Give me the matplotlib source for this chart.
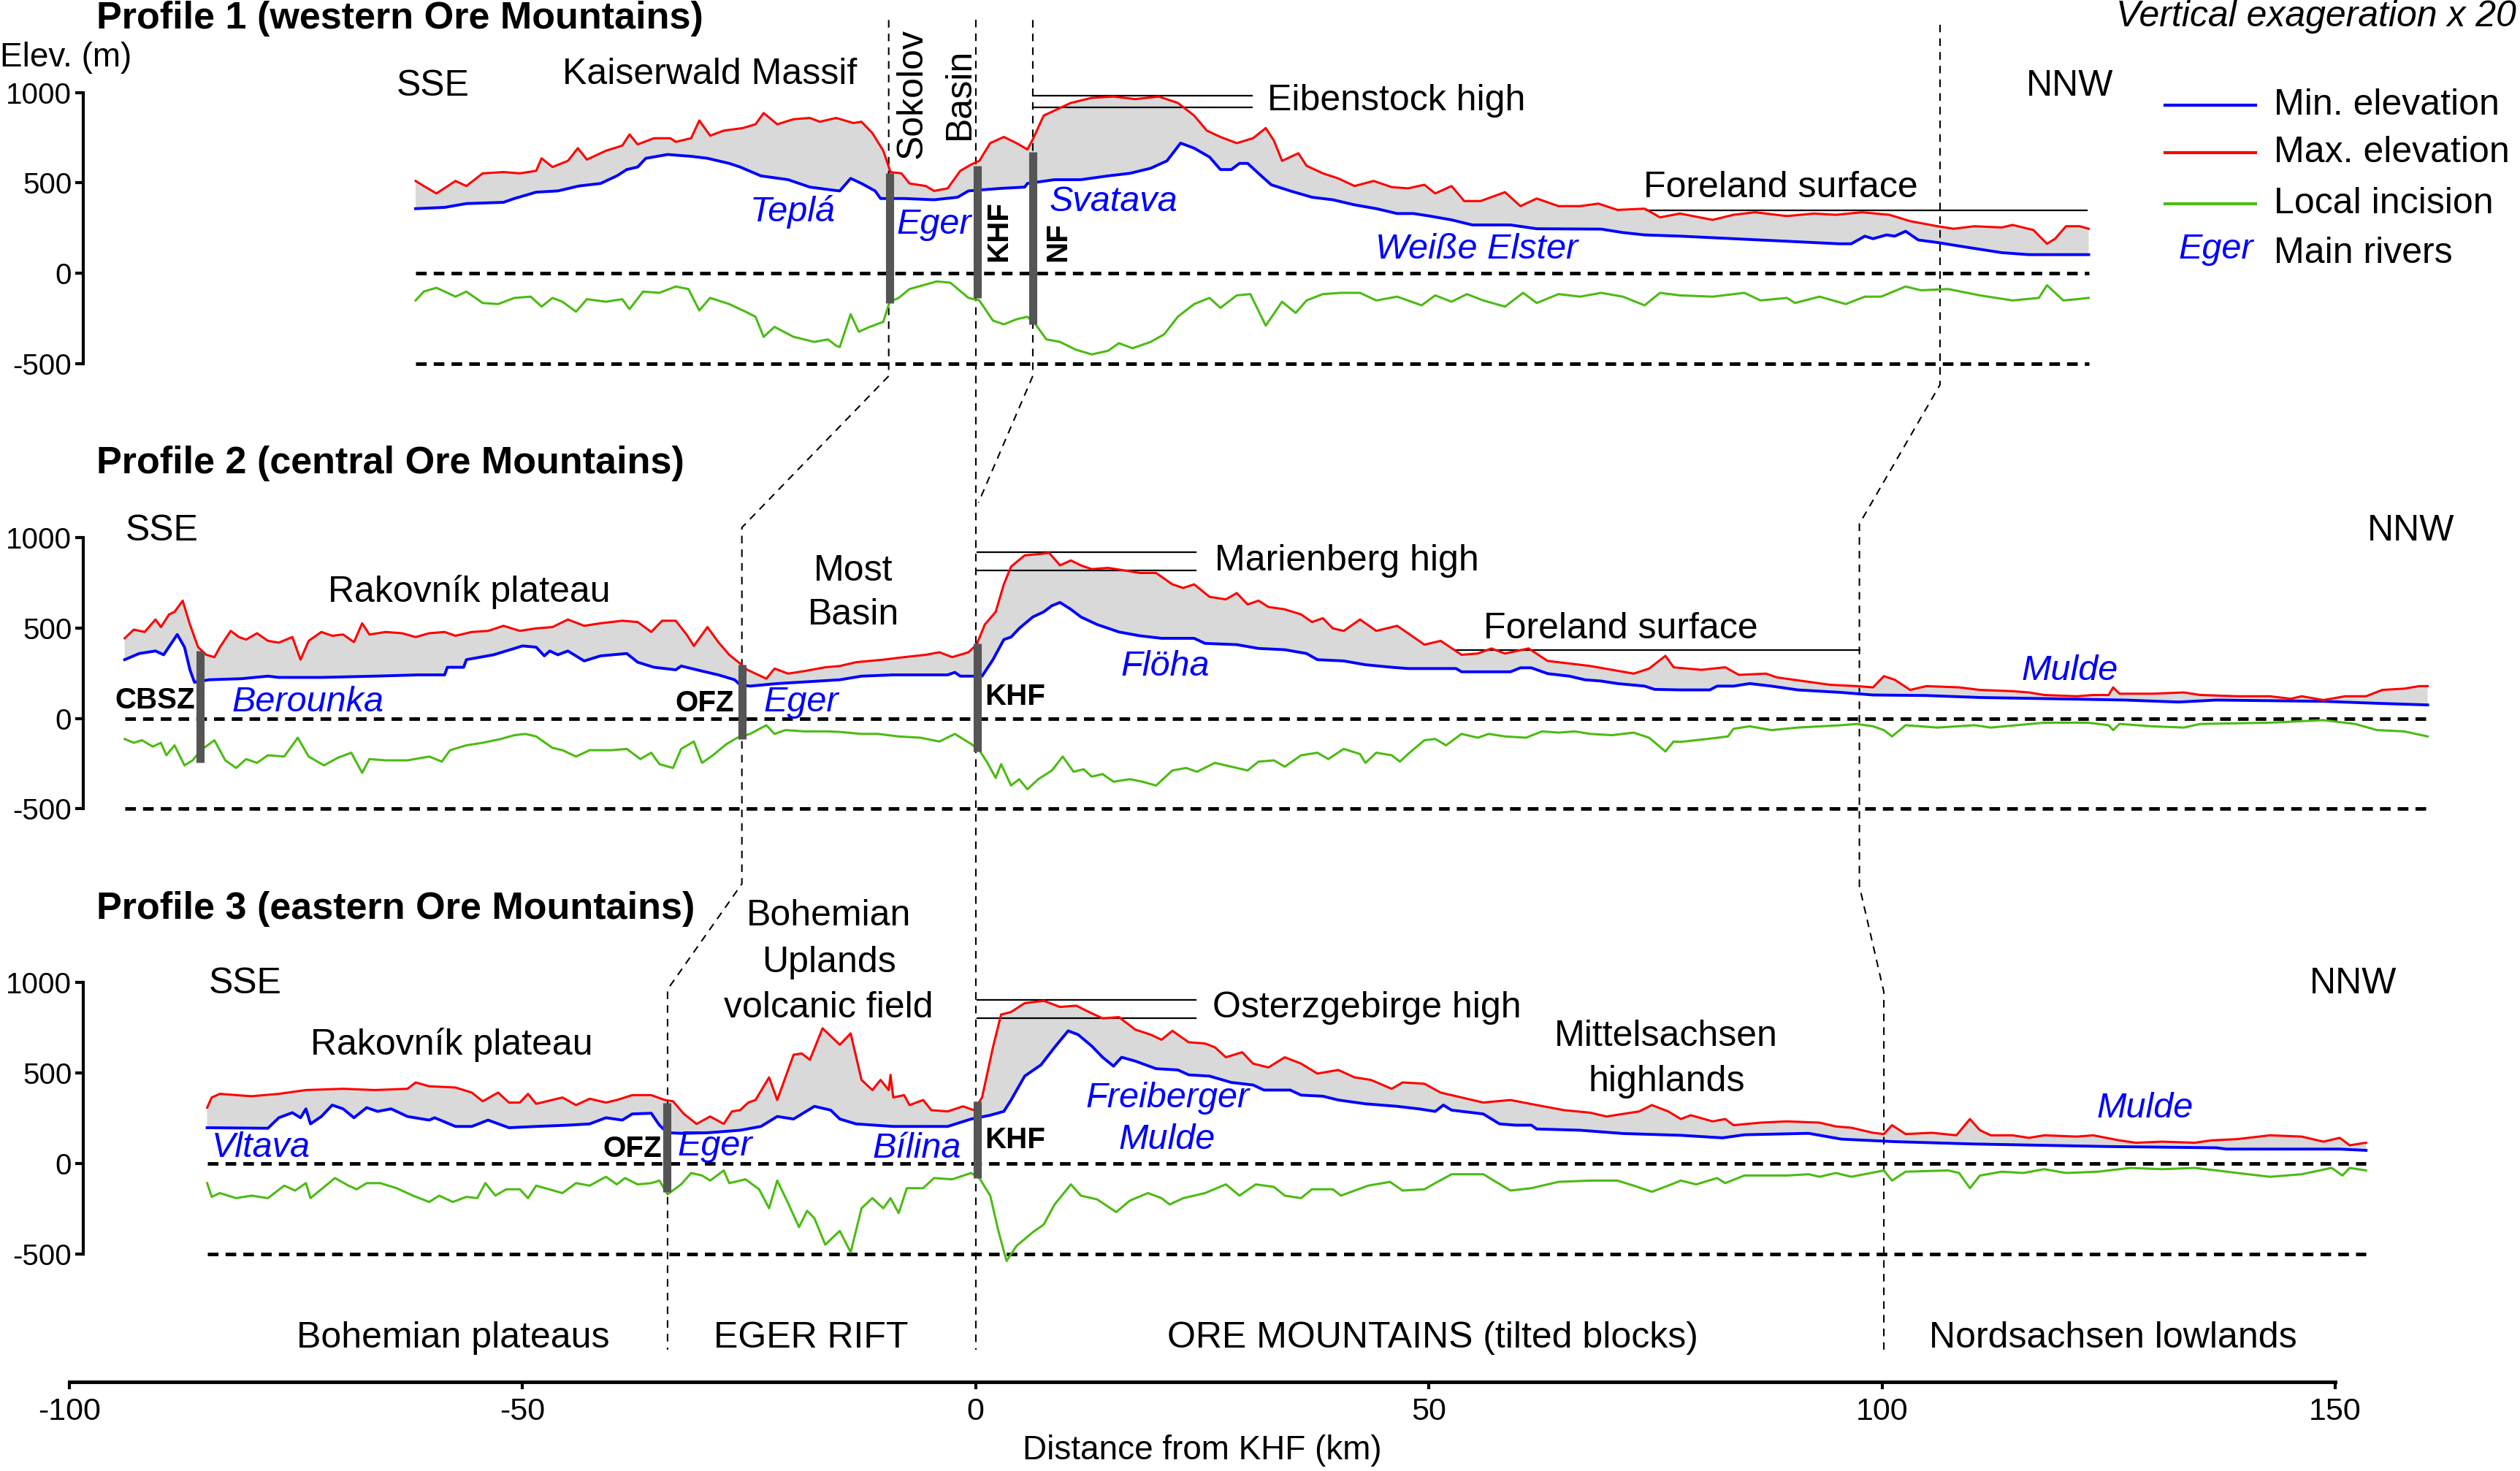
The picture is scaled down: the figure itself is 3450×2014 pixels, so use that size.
import numpy as np
import matplotlib.pyplot as plt

plt.rcParams['font.family'] = ['Liberation Sans', 'DejaVu Sans']
plt.rcParams['axes.unicode_minus'] = False

# swath profiles: (distance from KHF [km], elevation [m])
p1_max = np.array([
    (-61.8, 511), (-60.9, 483), (-59.5, 442), (-57.4, 511), (-56.2, 483), (-54.4, 553), (-52.1, 560),
    (-50.3, 553), (-48.5, 567), (-47.9, 636), (-46.7, 588), (-45.0, 622), (-43.9, 692), (-42.9, 629),
    (-40.8, 678), (-39.0, 706), (-38.2, 768), (-37.3, 713), (-35.5, 747), (-33.7, 747), (-33.1, 727),
    (-31.4, 747), (-30.5, 845), (-29.3, 761), (-27.8, 789), (-25.7, 803), (-24.3, 824), (-23.4, 886),
    (-21.9, 824), (-20.1, 852), (-18.3, 859), (-17.2, 838), (-15.4, 859), (-13.5, 831), (-12.6, 838),
    (-11.4, 775), (-10.2, 678), (-9.4, 560), (-8.2, 553), (-7.3, 497), (-5.5, 483), (-4.6, 456),
    (-3.1, 470), (-1.7, 567), (-0.5, 602), (0.4, 622), (1.6, 720), (3.1, 754), (4.5, 720), (5.7, 685),
    (6.3, 741), (7.5, 872), (8.7, 900), (10.5, 942), (12.8, 970), (15.2, 977), (17.6, 963), (20.2, 977),
    (22.3, 942), (24.1, 872), (25.5, 789), (27.0, 754), (28.8, 720), (30.6, 747), (32.0, 803),
    (32.9, 734), (33.8, 622), (35.6, 664), (36.5, 595), (38.3, 553), (40.0, 525), (41.8, 483),
    (43.9, 511), (45.9, 477), (47.7, 470), (49.5, 490), (50.7, 442), (52.5, 483), (53.9, 400),
    (55.7, 400), (58.4, 449), (60.1, 372), (61.9, 414), (64.3, 372), (66.7, 372), (68.7, 386),
    (70.8, 351), (73.8, 358), (75.5, 310), (77.7, 331), (81.3, 296), (83.6, 324), (86.0, 338),
    (89.5, 317), (92.5, 331), (94.9, 324), (97.8, 338), (100.8, 324), (103.1, 289), (106.1, 261),
    (107.9, 247), (110.2, 261), (113.2, 254), (114.4, 268), (116.7, 240), (118.2, 164), (119.1, 192),
    (120.3, 261), (121.8, 261), (122.8, 247)])
p1_min = np.array([
    (-61.8, 358), (-58.6, 365), (-56.2, 386), (-52.1, 393), (-50.9, 414), (-48.5, 449), (-46.1, 456),
    (-43.8, 483), (-41.4, 497), (-39.6, 539), (-38.5, 574), (-37.3, 588), (-36.4, 636), (-34.0, 657),
    (-31.4, 647), (-29.6, 636), (-27.2, 608), (-26.0, 588), (-23.7, 539), (-20.7, 518), (-18.3, 477),
    (-15.4, 458), (-15.0, 456), (-13.8, 525), (-12.6, 497), (-11.1, 456), (-10.5, 414), (-7.9, 414),
    (-4.6, 407), (-2.0, 421), (-0.8, 456), (2.8, 470), (5.4, 477), (5.7, 497), (8.7, 518), (11.6, 518),
    (14.6, 539), (17.0, 553), (19.3, 581), (21.1, 622), (22.6, 720), (24.1, 692), (25.8, 643),
    (27.0, 574), (28.2, 574), (29.1, 608), (30.0, 608), (31.2, 553), (32.6, 490), (34.7, 456),
    (37.1, 421), (39.4, 407), (41.8, 379), (44.2, 358), (46.5, 331), (48.3, 331), (50.1, 317),
    (52.5, 296), (54.8, 268), (59.0, 268), (61.9, 247), (69.0, 245), (71.4, 226), (73.8, 213),
    (77.8, 206), (83.6, 192), (89.5, 178), (95.2, 164), (96.6, 164), (98.1, 206), (99.0, 192),
    (100.5, 213), (101.4, 206), (102.6, 233), (104.0, 185), (106.1, 171), (109.6, 143), (113.2, 115),
    (116.2, 104), (122.8, 104)])
p1_inc = np.array([
    (-61.8, -149), (-60.9, -100), (-59.5, -79), (-57.4, -128), (-56.2, -100), (-54.4, -163),
    (-52.7, -169), (-50.9, -135), (-49.1, -128), (-47.9, -183), (-46.7, -135), (-45.6, -156),
    (-44.1, -211), (-42.9, -142), (-40.8, -156), (-39.0, -142), (-38.2, -197), (-36.7, -100),
    (-34.9, -107), (-33.1, -72), (-31.7, -86), (-30.5, -204), (-29.3, -135), (-27.2, -169),
    (-25.4, -211), (-24.3, -239), (-23.4, -350), (-22.2, -295), (-20.1, -350), (-17.8, -378),
    (-16.3, -364), (-15.4, -399), (-15.0, -406), (-13.8, -225), (-12.9, -322), (-11.7, -295),
    (-10.2, -267), (-9.5, -156), (-8.5, -135), (-7.3, -86), (-4.3, -44), (-2.8, -51), (-0.8, -135),
    (0.4, -149), (1.9, -260), (3.1, -281), (4.5, -253), (5.7, -239), (6.6, -281), (7.8, -364),
    (9.3, -378), (11.0, -420), (12.8, -447), (14.6, -427), (15.8, -385), (17.3, -413), (19.3, -378),
    (20.8, -336), (22.3, -239), (24.1, -169), (25.8, -135), (27.0, -190), (28.8, -121), (30.3, -114),
    (32.0, -288), (33.8, -156), (35.3, -218), (36.5, -149), (38.3, -114), (40.3, -107), (42.4, -107),
    (44.2, -149), (46.5, -128), (49.2, -176), (50.7, -121), (52.5, -156), (54.2, -114), (56.0, -149),
    (58.4, -183), (60.4, -107), (61.9, -163), (64.3, -114), (66.7, -128), (69.0, -107), (71.4, -128),
    (73.8, -176), (75.5, -107), (77.7, -121), (81.3, -128), (84.8, -107), (86.6, -149), (89.5, -135),
    (90.4, -163), (93.1, -128), (96.0, -169), (98.1, -128), (99.9, -128), (102.6, -72), (104.3, -93),
    (107.3, -86), (110.8, -121), (114.4, -149), (117.3, -135), (118.2, -65), (120.0, -149),
    (121.5, -142), (122.8, -135)])

p2_max = np.array([
    (-93.9, 442), (-92.9, 490), (-91.7, 477), (-90.5, 546), (-89.9, 504), (-89.0, 574), (-88.4, 588),
    (-87.5, 650), (-86.7, 518), (-85.8, 393), (-84.9, 351), (-84.0, 338), (-83.4, 393), (-82.2, 483),
    (-81.3, 449), (-80.5, 435), (-79.3, 470), (-78.1, 428), (-76.9, 418), (-75.4, 449), (-74.5, 324),
    (-73.6, 428), (-72.2, 477), (-71.0, 456), (-69.8, 463), (-68.6, 421), (-67.7, 525), (-66.9, 463),
    (-65.1, 477), (-63.3, 470), (-61.8, 449), (-60.3, 470), (-58.6, 477), (-57.4, 456), (-55.6, 477),
    (-53.8, 483), (-52.1, 511), (-50.3, 483), (-48.5, 497), (-46.7, 504), (-45.0, 546), (-43.2, 511),
    (-41.4, 525), (-39.0, 539), (-37.3, 532), (-35.8, 477), (-34.6, 539), (-33.1, 539), (-31.9, 463),
    (-31.1, 400), (-29.6, 504), (-28.4, 421), (-27.2, 351), (-26.0, 303), (-25.2, 268), (-23.1, 219),
    (-22.2, 275), (-20.7, 247), (-18.9, 261), (-16.6, 282), (-15.0, 289), (-13.2, 310), (-10.2, 324),
    (-7.9, 338), (-5.5, 351), (-4.0, 365), (-2.6, 338), (-0.8, 365), (0.1, 407), (1.0, 518), (2.2, 588),
    (3.1, 740), (3.9, 838), (5.4, 900), (6.9, 907), (8.1, 914), (9.3, 845), (10.5, 872), (11.6, 845),
    (12.8, 824), (14.6, 831), (16.4, 817), (18.1, 803), (19.9, 803), (21.7, 740), (22.9, 720),
    (24.1, 740), (25.8, 671), (27.6, 657), (28.8, 692), (30.0, 629), (31.2, 650), (32.3, 615),
    (34.1, 602), (35.9, 574), (37.1, 532), (38.3, 553), (39.4, 497), (40.6, 483), (42.4, 546),
    (44.2, 483), (46.5, 511), (48.3, 449), (49.5, 407), (51.3, 428), (53.6, 351), (55.4, 358),
    (56.9, 386), (58.4, 358), (61.0, 386), (63.1, 317), (65.5, 303), (67.8, 289), (70.2, 268),
    (72.6, 247), (74.3, 275), (76.1, 345), (77.0, 282), (77.8, 278), (80.1, 268), (82.7, 282),
    (84.2, 240), (87.2, 247), (88.4, 226), (91.3, 206), (94.3, 185), (97.2, 178), (99.0, 171),
    (100.2, 233), (101.4, 213), (103.1, 157), (104.9, 178), (108.5, 171), (110.8, 157), (114.4, 150),
    (116.2, 143), (117.9, 129), (121.5, 122), (123.3, 129), (125.0, 129), (125.5, 171), (126.2, 136),
    (129.8, 136), (133.3, 143), (135.1, 129), (139.2, 122), (142.8, 122), (145.1, 108), (146.3, 122),
    (148.7, 101), (151.1, 122), (153.4, 122), (155.2, 157), (157.6, 164), (159.3, 178), (160.2, 178)])
p2_min = np.array([
    (-93.9, 324), (-92.3, 358), (-90.5, 372), (-89.6, 351), (-88.1, 463), (-87.3, 393), (-86.7, 268),
    (-86.2, 199), (-84.6, 213), (-81.0, 219), (-78.1, 233), (-76.9, 226), (-72.2, 226), (-66.3, 233),
    (-61.5, 240), (-58.6, 240), (-58.3, 282), (-56.5, 282), (-56.2, 324), (-53.2, 351), (-50.9, 386),
    (-50.0, 400), (-48.5, 393), (-47.6, 345), (-47.0, 372), (-46.1, 351), (-45.0, 372), (-43.2, 317),
    (-41.4, 345), (-38.5, 358), (-37.3, 310), (-35.5, 282), (-33.1, 268), (-32.5, 289), (-30.2, 261),
    (-28.4, 240), (-26.6, 213), (-26.0, 185), (-24.9, 178), (-21.9, 192), (-18.9, 201), (-15.0, 213),
    (-12.6, 233), (-9.1, 240), (-3.1, 240), (-2.3, 254), (-1.7, 233), (0.7, 233), (1.9, 324),
    (3.1, 435), (3.9, 449), (4.8, 497), (6.3, 560), (7.5, 588), (8.4, 622), (9.3, 640), (10.5, 602),
    (11.6, 560), (13.4, 518), (15.8, 477), (18.1, 456), (20.5, 442), (24.1, 442), (25.3, 414),
    (28.8, 407), (31.2, 386), (34.1, 379), (36.5, 358), (37.7, 324), (40.6, 317), (43.0, 296),
    (45.9, 282), (47.7, 275), (53.0, 275), (53.6, 257), (59.0, 257), (60.1, 279), (61.3, 279),
    (63.1, 247), (65.5, 233), (67.2, 213), (69.0, 206), (70.8, 192), (73.8, 178), (74.9, 160),
    (77.8, 157), (81.0, 157), (81.8, 178), (83.6, 178), (85.4, 192), (87.8, 178), (90.7, 157),
    (95.5, 143), (99.0, 129), (104.9, 126), (110.8, 115), (119.1, 108), (126.8, 101), (132.7, 90),
    (136.9, 101), (148.7, 94), (154.6, 83), (160.2, 74)])
p2_inc = np.array([
    (-93.9, -114), (-92.9, -135), (-92.0, -121), (-90.8, -156), (-89.9, -135), (-89.3, -204),
    (-88.4, -149), (-87.3, -260), (-86.4, -232), (-85.5, -176), (-84.0, -121), (-82.8, -232),
    (-81.6, -274), (-80.5, -225), (-79.3, -246), (-78.1, -204), (-76.3, -211), (-74.8, -107),
    (-73.6, -211), (-71.9, -260), (-70.4, -218), (-68.9, -190), (-67.7, -301), (-66.9, -225),
    (-65.1, -232), (-62.7, -232), (-60.3, -211), (-58.9, -239), (-58.0, -176), (-56.2, -149),
    (-54.4, -135), (-52.4, -114), (-50.9, -93), (-49.7, -86), (-48.5, -100), (-46.7, -163),
    (-45.6, -176), (-44.1, -211), (-42.6, -176), (-40.2, -176), (-38.5, -169), (-37.0, -225),
    (-35.8, -190), (-34.9, -253), (-33.4, -274), (-32.5, -169), (-31.1, -128), (-30.2, -246),
    (-29.0, -204), (-27.5, -142), (-26.3, -107), (-24.9, -86), (-23.1, -38), (-22.2, -86),
    (-21.0, -65), (-18.9, -72), (-16.6, -72), (-15.0, -75), (-12.6, -86), (-10.8, -86), (-8.5, -100),
    (-6.1, -107), (-4.0, -128), (-2.3, -86), (-0.5, -142), (0.4, -176), (1.3, -246), (2.2, -329),
    (2.8, -253), (3.9, -371), (4.8, -336), (5.7, -392), (6.9, -336), (8.4, -288), (9.6, -211),
    (10.8, -295), (11.9, -281), (12.8, -322), (14.0, -308), (15.2, -350), (17.0, -336), (18.4, -350),
    (19.9, -371), (21.7, -288), (23.2, -274), (24.4, -295), (26.4, -246), (28.2, -267), (30.0, -288),
    (31.2, -239), (32.9, -232), (34.1, -267), (35.9, -204), (37.7, -190), (38.9, -225), (40.6, -169),
    (42.4, -197), (43.0, -246), (44.2, -190), (45.9, -204), (46.8, -239), (47.7, -197), (49.5, -121),
    (50.7, -114), (51.9, -149), (53.6, -86), (55.4, -107), (56.6, -86), (58.4, -100), (60.7, -107),
    (62.5, -72), (64.3, -79), (66.1, -72), (67.8, -86), (70.2, -93), (72.6, -79), (74.3, -107),
    (76.1, -183), (77.0, -128), (77.8, -130), (80.7, -114), (83.0, -100), (83.6, -58), (85.4, -44),
    (87.8, -65), (90.7, -51), (95.5, -38), (97.2, -31), (99.0, -44), (100.2, -65), (101.1, -100),
    (102.6, -38), (106.1, -51), (110.2, -38), (112.0, -51), (117.9, -24), (122.7, -24), (125.0, -38),
    (125.5, -65), (126.2, -31), (129.8, -44), (133.3, -51), (135.1, -31), (142.8, -24), (145.7, -17),
    (148.7, -10), (152.2, -31), (154.6, -65), (157.6, -72), (160.2, -100)])

p3_max = np.array([
    (-84.8, 307), (-84.3, 363), (-83.4, 383), (-81.6, 376), (-79.9, 370), (-76.9, 383), (-73.9, 404),
    (-69.8, 411), (-66.3, 404), (-62.7, 411), (-61.8, 446), (-60.3, 425), (-57.4, 418), (-55.6, 390),
    (-54.4, 342), (-52.7, 390), (-51.5, 335), (-50.3, 335), (-49.4, 383), (-48.5, 328), (-45.6, 363),
    (-44.1, 321), (-42.6, 356), (-40.8, 335), (-39.6, 349), (-37.9, 376), (-35.8, 376), (-34.3, 349),
    (-33.4, 342), (-32.2, 272), (-30.8, 217), (-29.3, 258), (-27.8, 217), (-26.9, 286), (-26.0, 293),
    (-25.1, 335), (-24.3, 349), (-22.8, 474), (-21.9, 349), (-20.1, 599), (-19.2, 606), (-18.3, 571),
    (-16.9, 745), (-15.0, 654), (-13.8, 717), (-12.6, 460), (-11.4, 404), (-10.5, 460), (-9.6, 404),
    (-9.4, 488), (-9.1, 363), (-7.9, 376), (-7.3, 321), (-5.8, 349), (-4.9, 293), (-3.1, 286),
    (-1.4, 314), (-0.2, 293), (0.7, 363), (1.9, 640), (2.8, 821), (3.9, 835), (5.4, 884), (7.5, 897),
    (9.3, 863), (11.1, 870), (12.5, 835), (14.0, 800), (15.8, 807), (17.6, 738), (19.3, 710),
    (20.5, 682), (21.7, 731), (23.5, 668), (25.3, 661), (26.4, 640), (27.6, 585), (29.4, 613),
    (30.6, 550), (32.3, 529), (34.1, 585), (35.9, 550), (37.7, 495), (40.0, 515), (41.8, 474),
    (43.6, 460), (45.9, 411), (47.1, 446), (49.5, 439), (51.3, 390), (53.6, 363), (56.0, 335),
    (59.0, 349), (61.9, 321), (64.9, 293), (67.8, 279), (69.6, 258), (71.4, 272), (73.2, 286),
    (74.6, 321), (76.4, 286), (77.8, 244), (78.9, 265), (81.3, 231), (82.7, 244), (83.6, 210),
    (86.6, 224), (89.5, 231), (93.1, 224), (94.9, 203), (96.6, 196), (99.0, 168), (100.2, 161),
    (101.1, 210), (102.6, 161), (105.5, 168), (108.2, 154), (109.7, 244), (110.8, 182), (112.0, 154),
    (114.4, 154), (116.2, 140), (117.9, 154), (121.5, 147), (123.3, 154), (126.2, 126), (128.0, 113),
    (130.9, 119), (134.5, 113), (136.3, 126), (139.2, 133), (142.8, 154), (146.3, 147), (148.7, 119),
    (150.5, 140), (151.6, 99), (153.4, 113)])
p3_min = np.array([
    (-84.8, 196), (-78.1, 193), (-76.9, 251), (-75.4, 279), (-74.5, 251), (-73.9, 300), (-73.4, 217),
    (-72.2, 258), (-71.0, 321), (-69.8, 300), (-68.6, 251), (-67.2, 307), (-66.0, 286), (-64.5, 300),
    (-62.7, 258), (-60.3, 238), (-59.7, 251), (-57.4, 203), (-55.6, 203), (-53.8, 238), (-51.5, 196),
    (-48.5, 203), (-45.0, 210), (-42.6, 217), (-40.8, 251), (-39.0, 238), (-37.9, 272), (-35.8, 276),
    (-34.9, 210), (-34.0, 168), (-32.5, 165), (-29.6, 168), (-26.0, 182), (-23.7, 203), (-21.9, 258),
    (-20.1, 244), (-17.8, 314), (-16.0, 293), (-15.0, 244), (-13.2, 217), (-9.1, 203), (-3.1, 203),
    (-0.5, 244), (1.6, 265), (3.1, 286), (3.9, 349), (5.4, 481), (7.2, 543), (8.7, 640), (10.2, 731),
    (11.3, 710), (12.8, 647), (14.0, 585), (15.2, 536), (16.1, 585), (17.6, 564), (19.9, 522),
    (22.3, 515), (23.5, 488), (25.8, 481), (28.2, 446), (30.6, 432), (31.8, 404), (34.7, 404),
    (35.9, 376), (38.3, 370), (40.0, 349), (43.0, 328), (46.5, 314), (48.9, 300), (50.7, 286),
    (51.6, 321), (52.5, 293), (56.0, 272), (57.8, 217), (59.6, 210), (61.3, 210), (61.9, 189),
    (66.7, 182), (71.4, 164), (77.8, 154), (82.4, 140), (84.8, 157), (91.9, 165), (95.5, 133),
    (101.4, 119), (110.2, 106), (125.0, 92), (136.9, 85), (138.0, 78), (150.5, 78), (153.4, 71)])
p3_inc = np.array([
    (-84.8, -110), (-84.3, -186), (-83.4, -165), (-81.6, -193), (-79.9, -179), (-78.1, -193),
    (-76.3, -124), (-75.1, -151), (-73.9, -110), (-73.4, -193), (-72.2, -144), (-70.7, -82),
    (-69.2, -124), (-68.3, -144), (-67.2, -110), (-65.7, -110), (-63.9, -138), (-62.1, -179),
    (-60.3, -214), (-59.2, -179), (-57.7, -214), (-56.2, -186), (-55.0, -193), (-54.1, -110),
    (-53.0, -179), (-51.8, -144), (-50.3, -144), (-49.4, -193), (-48.5, -124), (-45.6, -165),
    (-44.1, -110), (-42.6, -124), (-40.8, -75), (-39.6, -117), (-38.7, -82), (-37.3, -117),
    (-35.8, -110), (-34.9, -96), (-34.0, -172), (-32.5, -117), (-31.4, -54), (-30.2, -68),
    (-29.3, -96), (-27.8, -40), (-27.2, -110), (-25.4, -89), (-23.9, -144), (-22.8, -249),
    (-21.9, -96), (-20.7, -221), (-19.5, -353), (-18.6, -263), (-17.8, -304), (-16.6, -450),
    (-15.0, -374), (-13.8, -492), (-12.6, -249), (-11.4, -193), (-10.2, -249), (-9.4, -193),
    (-8.5, -276), (-7.6, -138), (-5.8, -138), (-4.6, -82), (-2.6, -89), (-0.5, -54), (0.4, -82),
    (1.6, -179), (2.5, -374), (3.4, -540), (4.5, -457), (6.3, -381), (7.5, -339), (8.7, -228),
    (10.5, -117), (11.6, -179), (13.4, -200), (15.5, -270), (17.0, -207), (19.0, -165), (20.5, -193),
    (21.4, -228), (22.9, -193), (25.3, -165), (27.6, -117), (29.1, -179), (30.9, -117), (32.9, -131),
    (34.1, -179), (35.9, -193), (37.1, -144), (39.4, -144), (40.3, -179), (43.3, -124), (45.7, -103),
    (47.1, -151), (49.5, -144), (50.7, -110), (52.5, -61), (56.0, -61), (59.0, -151), (61.3, -138),
    (64.3, -103), (67.8, -96), (70.8, -96), (72.6, -124), (74.6, -158), (76.4, -124), (77.8, -96),
    (79.5, -117), (81.8, -82), (82.7, -110), (84.8, -68), (89.5, -68), (91.9, -61), (93.1, -75),
    (94.9, -54), (96.6, -75), (100.2, -40), (101.1, -96), (102.6, -47), (107.3, -40), (108.5, -54),
    (109.7, -138), (110.8, -68), (113.2, -47), (115.6, -54), (117.9, -33), (120.3, -54),
    (123.8, -47), (127.4, -26), (130.9, -33), (134.5, -26), (136.9, -40), (139.2, -54), (142.8, -75),
    (146.3, -61), (149.6, -26), (150.8, -68), (151.6, -26), (153.4, -40)])

# vertical stacking of the three profiles (m)
off1, off2, off3 = 4914, 2457, 0

# fault bars: (km, top m, bottom m)
faults1 = [(-9.5, 553, -163), (0.15, 595, -135), (6.3, 671, -281)]
faults2 = [(-85.6, 372, -245), (-25.8, 296, -114), (0.15, 414, -184)]
faults3 = [(-34.1, 335, -158), (0.15, 342, -82)]

BLUE = '#0000ff'
RED = '#ff0000'
GREEN = '#4cbb14'
GREY = '#d9d9d9'

fig = plt.figure(figsize=(34.5, 20.14), dpi=100)
ax = fig.add_axes([0.02754, 0.06073, 0.89913, 0.93927])
ax.set_xlim(-100, 150)
ax.set_ylim(-1206.6, 6424.4)

profiles = [(p1_max, p1_min, p1_inc, off1, faults1),
            (p2_max, p2_min, p2_inc, off2, faults2),
            (p3_max, p3_min, p3_inc, off3, faults3)]

for mx, mn, inc, off, faults in profiles:
    ax.fill(np.r_[mx[:, 0], mn[::-1, 0]], np.r_[mx[:, 1], mn[::-1, 1]] + off,
            color=GREY, lw=0, zorder=1, clip_on=False)
    ax.plot(mn[:, 0], mn[:, 1] + off, color=BLUE, lw=2.8, zorder=3, clip_on=False)
    ax.plot(mx[:, 0], mx[:, 1] + off, color=RED, lw=2.2, zorder=3, clip_on=False)
    ax.plot(inc[:, 0], inc[:, 1] + off, color=GREEN, lw=2.2, zorder=3, clip_on=False)
    x0, x1 = mx[0, 0], mx[-1, 0]
    for lev in (0, -500):
        ax.plot([x0, x1], [off + lev, off + lev], color='k', lw=3.5,
                ls=(0, (3, 2)), zorder=2, clip_on=False)
    for fx, top, bot in faults:
        ax.plot([fx, fx], [off + top, off + bot], color='#555555', lw=8,
                solid_capstyle='butt', zorder=4)
    sec = ax.secondary_yaxis(0.006, functions=(lambda y, o=off: y - o,
                                               lambda y, o=off: y + o))
    sec.set_yticks([-500, 0, 500, 1000])
    sec.spines['left'].set_bounds(-500, 1000)
    sec.spines['left'].set_linewidth(3)
    sec.tick_params(width=3, length=8, labelsize=29, pad=3)

# thin dashed structural lines linking the profiles
dash = dict(color='k', lw=1.5, ls=(0, (5, 4)), zorder=2)
ax.plot([-9.6, -9.6, -25.8, -25.8, -34.0, -34.0],
        [off1 + 1400, off1 - 566, off2 + 1054, off2 - 914, off3 + 960, off3 - 1030], **dash)
ax.plot([0, 0], [off1 + 1400, off3 - 1030], **dash)
ax.plot([6.3, 6.3, 0.3], [off1 + 1400, off1 - 566, off2 + 1191], **dash)
ax.plot([106.4, 106.4, 97.5, 97.5, 100.2, 100.2],
        [off1 + 1374, off1 - 614, off2 + 1074, off2 - 927, off3 + 946, off3 - 1030], **dash)

# surface lines
thin = dict(color='k', lw=1.6, zorder=2)
ax.plot([6.3, 30.5], [off1 + 983] * 2, **thin)
ax.plot([6.3, 30.5], [off1 + 917] * 2, **thin)
ax.plot([74.0, 122.6], [off1 + 350] * 2, **thin)
ax.plot([0.15, 24.3], [off2 + 917] * 2, **thin)
ax.plot([0.15, 24.3], [off2 + 817] * 2, **thin)
ax.plot([53.0, 97.5], [off2 + 379] * 2, **thin)
ax.plot([0.15, 24.3], [off3 + 902] * 2, **thin)
ax.plot([0.15, 24.3], [off3 + 800] * 2, **thin)

FS = 36
ann = dict(fontsize=FS, va='baseline')
riv = dict(fontsize=35, color=BLUE, style='italic', va='baseline')
flt = dict(fontsize=29, weight='bold', va='baseline')
ttl = dict(fontsize=37.5, weight='bold', va='baseline')

# profile 1
ax.text(-97.0, off1 + 1352, 'Profile 1 (western Ore Mountains)', **ttl)
ax.text(-107.66, off1 + 1143, 'Elev. (m)', fontsize=33, va='baseline')
ax.text(-63.9, off1 + 983, 'SSE', **ann)
ax.text(115.9, off1 + 983, 'NNW', **ann)
ax.text(-45.6, off1 + 1046, 'Kaiserwald Massif', **ann)
ax.text(-7.0, off1 + 995, 'Sokolov', rotation=90, ha='center', va='center', fontsize=FS)
ax.text(-1.8, off1 + 991, 'Basin', rotation=90, ha='center', va='center', fontsize=FS)
ax.text(2.5, off1 + 233, 'KHF', rotation=90, ha='center', va='center', fontsize=29, weight='bold')
ax.text(9.1, off1 + 176, 'NF', rotation=90, ha='center', va='center', fontsize=29, weight='bold')
ax.text(32.2, off1 + 900, 'Eibenstock high', **ann)
ax.text(73.7, off1 + 421, 'Foreland surface', **ann)
ax.text(-24.9, off1 + 289, 'Teplá', **riv)
ax.text(-8.75, off1 + 220, 'Eger', **riv)
ax.text(8.1, off1 + 344, 'Svatava', **riv)
ax.text(44.1, off1 + 81, 'Weiße Elster', **riv)
ax.text(170.0, off1 + 1366, 'Vertical exageration x 20', fontsize=36, style='italic',
        ha='right', va='baseline')

# legend
for lab, col, ym in [('Min. elevation', BLUE, 931), ('Max. elevation', RED, 667),
                     ('Local incision', GREEN, 386)]:
    ax.plot([131.2, 141.2], [off1 + ym] * 2, color=col, lw=3, clip_on=False)
    ax.text(143.2, off1 + ym - 52, lab, **ann)
ax.text(132.7, off1 + 81, 'Eger', **riv)
ax.text(143.2, off1 + 59, 'Main rivers', **ann)

# profile 2
ax.text(-97.0, off2 + 1352, 'Profile 2 (central Ore Mountains)', **ttl)
ax.text(-93.8, off2 + 983, 'SSE', **ann)
ax.text(153.5, off2 + 983, 'NNW', **ann)
ax.text(-71.5, off2 + 643, 'Rakovník plateau', **ann)
ax.text(-13.5, off2 + 761, 'Most', ha='center', fontsize=FS, va='baseline')
ax.text(-13.5, off2 + 518, 'Basin', ha='center', fontsize=FS, va='baseline')
ax.text(26.4, off2 + 817, 'Marienberg high', **ann)
ax.text(56.0, off2 + 442, 'Foreland surface', **ann)
ax.text(-86.1, off2 + 53, 'CBSZ', ha='right', **flt)
ax.text(-26.7, off2 + 39, 'OFZ', ha='right', **flt)
ax.text(1.0, off2 + 76, 'KHF', **flt)
ax.text(-82.1, off2 + 39, 'Berounka', **riv)
ax.text(-23.4, off2 + 39, 'Eger', **riv)
ax.text(16.0, off2 + 234, 'Flöha', **riv)
ax.text(115.4, off2 + 213, 'Mulde', **riv)

# profile 3
ax.text(-97.0, off3 + 1349, 'Profile 3 (eastern Ore Mountains)', **ttl)
ax.text(-84.6, off3 + 939, 'SSE', **ann)
ax.text(147.2, off3 + 939, 'NNW', **ann)
ax.text(-73.4, off3 + 599, 'Rakovník plateau', **ann)
ax.text(-16.2, off3 + 1314, 'Bohemian', ha='center', fontsize=FS, va='baseline')
ax.text(-16.2, off3 + 1057, 'Uplands', ha='center', fontsize=FS, va='baseline')
ax.text(-16.2, off3 + 807, 'volcanic field', ha='center', fontsize=FS, va='baseline')
ax.text(26.1, off3 + 807, 'Osterzgebirge high', **ann)
ax.text(76.2, off3 + 648, 'Mittelsachsen', ha='center', fontsize=FS, va='baseline')
ax.text(76.2, off3 + 398, 'highlands', ha='center', fontsize=FS, va='baseline')
ax.text(-34.6, off3 + 36, 'OFZ', ha='right', **flt)
ax.text(1.0, off3 + 85, 'KHF', **flt)
ax.text(-84.3, off3 + 36, 'Vltava', **riv)
ax.text(-32.9, off3 + 43, 'Eger', **riv)
ax.text(-11.4, off3 + 29, 'Bílina', **riv)
ax.text(21.2, off3 + 307, 'Freiberger', ha='center', **riv)
ax.text(21.1, off3 + 78, 'Mulde', ha='center', **riv)
ax.text(123.7, off3 + 251, 'Mulde', **riv)

# regions
for xc, lab in [(-57.7, 'Bohemian plateaus'), (-18.2, 'EGER RIFT'),
                (50.4, 'ORE MOUNTAINS (tilted blocks)'), (125.5, 'Nordsachsen lowlands')]:
    ax.text(xc, off3 - 1018, lab, ha='center', **ann)

for s in ['left', 'right', 'top']:
    ax.spines[s].set_visible(False)
ax.spines['bottom'].set_linewidth(3.5)
ax.set_yticks([])
ax.set_xticks([-100, -50, 0, 50, 100, 150])
ax.tick_params(axis='x', width=3, length=7, labelsize=31, pad=8)
ax.set_xlabel('Distance from KHF (km)', fontsize=33, labelpad=8)

fig.savefig('out.png', dpi=100)
